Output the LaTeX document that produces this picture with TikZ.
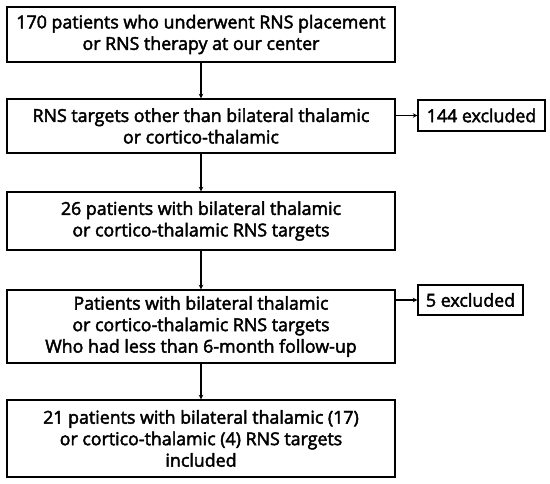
\documentclass[tikz,border=0pt]{standalone}
\usepackage{fontspec}
\setmainfont{Open Sans}
\newfontfamily\medfont{Open Sans}[FakeBold=2.5]
\usetikzlibrary{arrows.meta}
\begin{document}
\begin{tikzpicture}[x=1pt,y=-1pt,
  mainbox/.style={draw=black, line width=1.4pt, minimum width=388pt, align=center, inner sep=0pt,
    font=\medfont\fontsize{17.8}{21.5}\selectfont},
  exbox/.style={draw=black, line width=1.4pt, align=center, inner sep=0pt,
    font=\medfont\fontsize{17.8}{21.5}\selectfont},
  arr/.style={line width=1.5pt, -{Stealth[length=4.5pt,width=4.5pt]}}]
\useasboundingbox (0,0) rectangle (550,484);
\node[mainbox, minimum height=55pt] (b1) at (201,34.5) {170 patients who underwent RNS placement\\or RNS therapy at our center};
\node[mainbox, minimum height=54pt] (b2) at (201,126) {RNS targets other than bilateral thalamic\\or cortico-thalamic};
\node[mainbox, minimum height=58pt] (b3) at (201,221) {26 patients with bilateral thalamic\\or cortico-thalamic RNS targets};
\node[mainbox, minimum height=73pt] (b4) at (201,326.5) {Patients with bilateral thalamic\\or cortico-thalamic RNS targets\\Who had less than 6-month follow-up};
\node[mainbox, minimum height=77pt] (b5) at (201,438.5) {21 patients with bilateral thalamic (17)\\or cortico-thalamic (4) RNS targets\\included};
\node[exbox, minimum width=127pt, minimum height=31pt] (e1) at (481.5,115.5) {144 excluded};
\node[exbox, minimum width=105pt, minimum height=30pt] (e2) at (470.5,300) {5 excluded};
\draw[arr] (b1) -- (b2);
\draw[arr] (b2) -- (b3);
\draw[arr] (b3) -- (b4);
\draw[arr] (b4) -- (b5);
\draw[arr] (b2.east |- e1.west) -- (e1.west);
\draw[arr] (b4.east |- e2.west) -- (e2.west);
\end{tikzpicture}
\end{document}
